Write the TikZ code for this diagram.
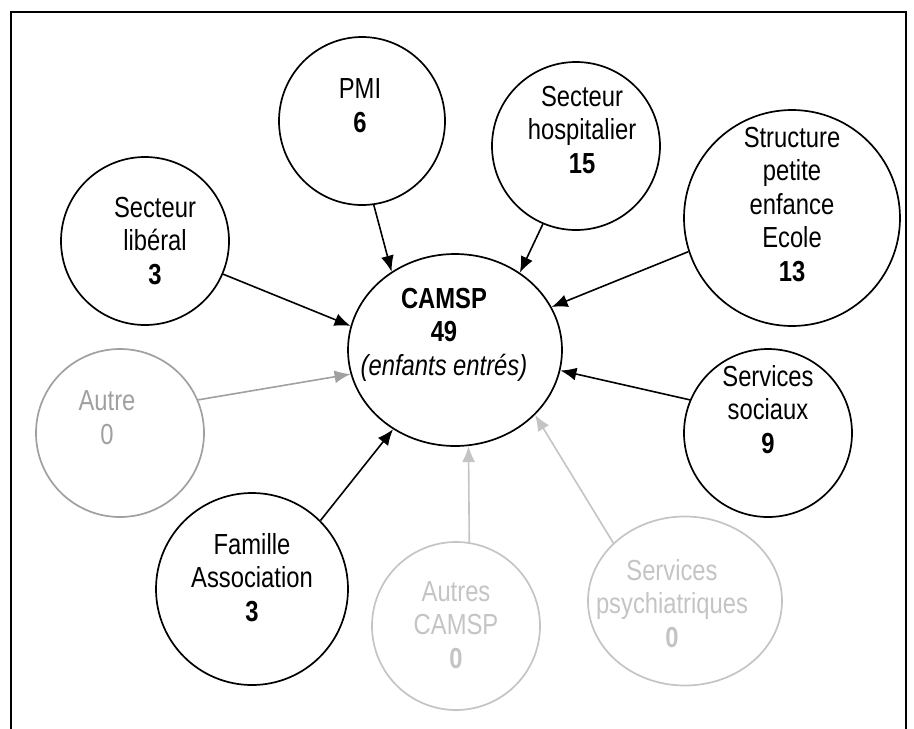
\documentclass[tikz,border=0pt]{standalone}
\usepackage{fontspec}
\setmainfont{Liberation Sans}[FakeStretch=0.82]
\usetikzlibrary{shapes.geometric,arrows.meta}
\definecolor{gA}{HTML}{A0A0A0}
\definecolor{gB}{HTML}{C4C4C4}
\tikzset{
 bubble/.style={draw, ellipse, line width=1.7pt, inner sep=0pt},
 lbl/.style={anchor=base, align=center, inner sep=0pt, font=\fontsize{29}{33.5}\selectfont},
 flow/.style={line width=1.6pt, -{Latex[length=16pt,width=13pt]}},
}
\begin{document}
\begin{tikzpicture}[x=1pt,y=-1pt]
\useasboundingbox (0,0) rectangle (914,729);
\draw[line width=2pt] (11,729) -- (11,12) -- (906,12) -- (906,729);
% circles
\node[bubble, minimum width=214, minimum height=192] (camsp) at (455,350) {};
\node[bubble, minimum width=166, minimum height=168] (pmi) at (362,121) {};
\node[bubble, minimum width=168, minimum height=168] (hosp) at (576,146) {};
\node[bubble, minimum width=168, minimum height=168] (lib) at (145,241) {};
\node[bubble, minimum width=216, minimum height=216] (struct) at (792,218) {};
\node[bubble, draw=gA, minimum width=168, minimum height=168] (autre) at (120,433) {};
\node[bubble, minimum width=192, minimum height=192] (fam) at (252,589) {};
\node[bubble, minimum width=168, minimum height=168] (soc) at (768,433) {};
\node[bubble, draw=gB, minimum width=168, minimum height=168] (acamsp) at (456,626) {};
\node[bubble, draw=gB, minimum width=194, minimum height=169] (psy) at (685,601) {};
% labels (anchored at the baseline of the last line)
\node[lbl] (tcamsp) at (444,375) {\textbf{CAMSP}\\\textbf{49}\\\textit{(enfants entrés)}};
\node[lbl] (tpmi) at (360,132) {PMI\\\textbf{6}};
\node[lbl] (thosp) at (582,173) {Secteur\\hospitalier\\\textbf{15}};
\node[lbl] (tlib) at (155,284) {Secteur\\libéral\\\textbf{3}};
\node[lbl] (tstruct) at (792,281) {Structure\\petite\\enfance\\Ecole\\\textbf{13}};
\node[lbl] (tsoc) at (768,453) {Services\\sociaux\\\textbf{9}};
\node[lbl, text=gA] (tautre) at (107,444) {Autre\\0};
\node[lbl] (tfam) at (252,621) {Famille\\Association\\\textbf{3}};
\node[lbl, text=gB] (tacamsp) at (456,668) {Autres\\CAMSP\\\textbf{0}};
\node[lbl, text=gB] (tpsy) at (672,647) {Services\\psychiatriques\\\textbf{0}};
% arrows
\draw[flow] (lib.-23.4) -- (camsp.167.5);
\draw[flow] (pmi.-82.5) -- (camsp.129.1);
\draw[flow] (hosp.-113.4) -- (camsp.50);
\draw[flow] (struct.198) -- (camsp.24);
\draw[flow] (soc.157.4) -- (camsp.-11.8);
\draw[flow, draw=gA] (autre.23.2) -- (camsp.193.2);
\draw[flow] (fam.45) -- (camsp.232);
\draw[flow, draw=gB] (acamsp.81.9) -- (camsp.-82.4);
\draw[flow, draw=gB] (psy.141) -- (camsp.-39.6);
\end{tikzpicture}
\end{document}
